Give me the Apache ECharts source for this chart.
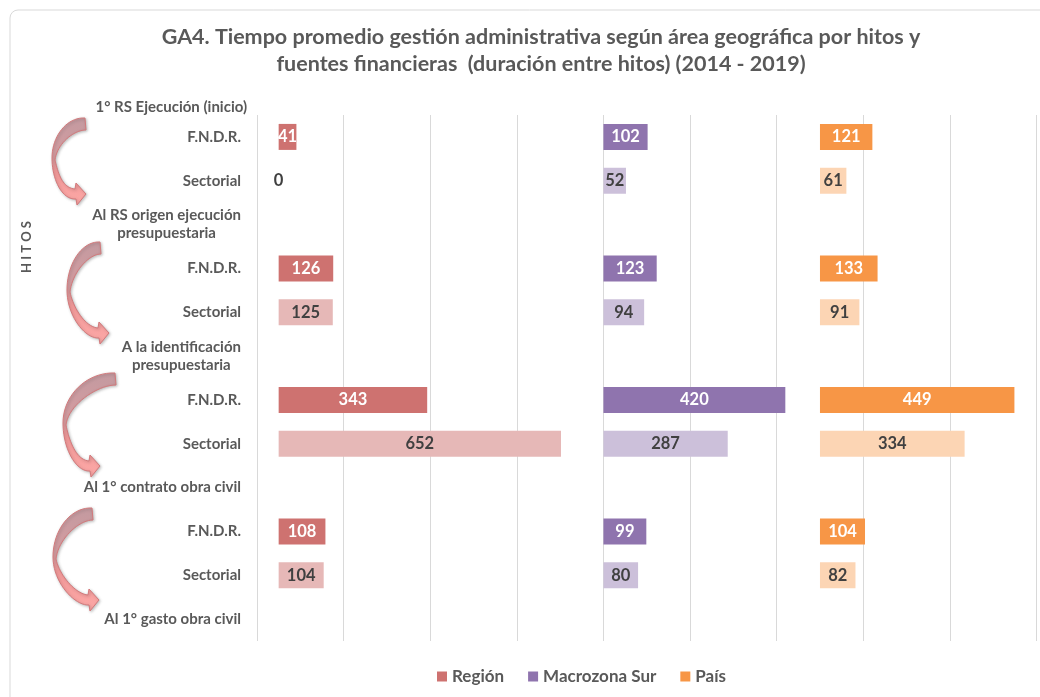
<!DOCTYPE html>
<html>
<head>
<meta charset="utf-8">
<script src="https://cdn.jsdelivr.net/npm/echarts@6/dist/echarts.min.js"></script>
<style>
  html, body { margin: 0; padding: 0; background: #fff; }
  #main { width: 1040px; height: 697px; }
</style>
</head>
<body>
<div id="main"></div>
<script>
// filas del eje (hitos y fuentes)
var categorias = ['F.N.D.R.', 'Sectorial', 'Al RS origen ejecución\npresupuestaria',
  'F.N.D.R.', 'Sectorial', 'A la identificación\npresupuestaria',
  'F.N.D.R.', 'Sectorial', 'Al 1° contrato obra civil',
  'F.N.D.R.', 'Sectorial', 'Al 1° gasto obra civil'];
var hitoInicial = '1° RS Ejecución (inicio)';

// días promedio
var region = [41, 0, null, 126, 125, null, 343, 652, null, 108, 104, null];
var macrozona = [102, 52, null, 123, 94, null, 420, 287, null, 99, 80, null];
var pais = [121, 61, null, 133, 91, null, 449, 334, null, 104, 82, null];

// inicio de cada panel sobre el eje comun
var inicioPaneles = [50, 800, 1300];

var font = 'Lato, "Open Sans", sans-serif';
var gris = '#595959';

var colores = {
  'Región': ['#ce7270', '#e6b8b7'],
  'Macrozona Sur': ['#8f74ae', '#ccc0da'],
  'País': ['#f79646', '#fcd5b4']
};

function datos(nombre, valores) {
  return valores.map(function (v, i) {
    if (v == null) return null;
    var sect = categorias[i] === 'Sectorial';
    return {
      value: v,
      itemStyle: { color: colores[nombre][sect ? 1 : 0] },
      label: { color: sect ? '#404040' : '#fff' }
    };
  });
}

function espacio(base, anteriores) {
  return region.map(function (v, i) {
    if (v == null) return null;
    return anteriores ? base - anteriores[i] : base;
  });
}

function serieVisible(nombre, valores) {
  return {
    name: nombre, type: 'bar', stack: 'total', barWidth: 26,
    itemStyle: { color: colores[nombre][0] },
    label: {
      show: true, position: 'inside', fontFamily: font,
      fontWeight: 'bold', fontSize: 16.5
    },
    data: datos(nombre, valores)
  };
}

function serieEspacio(valores) {
  return {
    type: 'bar', stack: 'total', barWidth: 26, silent: true,
    itemStyle: { color: 'transparent' }, label: { show: false },
    data: valores
  };
}

// flechas curvas decorativas
var flechas = [
  [85, 118, 52, 158, 86, 194],
  [100, 242, 67, 290, 109, 333],
  [115, 373, 63, 423, 100, 466],
  [92, 508, 53, 557, 99, 600]
];

function bezier(p0, p1, p2, p3, n) {
  var pts = [];
  for (var k = 1; k <= n; k++) {
    var t = k / n, u = 1 - t;
    pts.push([
      u * u * u * p0[0] + 3 * u * u * t * p1[0] + 3 * u * t * t * p2[0] + t * t * t * p3[0],
      u * u * u * p0[1] + 3 * u * u * t * p1[1] + 3 * u * t * t * p2[1] + t * t * t * p3[1]
    ]);
  }
  return pts;
}

function flecha(a) {
  var tx = a[0], ty = a[1], lx = a[2], ly = a[3], px = a[4], py = a[5];
  var h1 = ly - ty, h2 = py - ly;
  var pts = [[tx, ty]];
  pts = pts.concat(bezier([tx, ty], [tx - (tx - lx) * 0.55, ty - 1], [lx, ly - h1 * 0.55], [lx, ly], 20));
  pts = pts.concat(bezier([lx, ly], [lx, ly + h2 * 0.6], [px - 24, py + 6], [px - 10, py + 5], 20));
  pts.push([px - 9, py + 11], [px, py], [px - 10, py - 11], [px - 11, py - 5]);
  pts = pts.concat(bezier([px - 11, py - 5], [px - 24, py - 6], [lx + 6, ly + h2 * 0.4], [lx + 3, ly + 2], 20));
  pts = pts.concat(bezier([lx + 3, ly + 2], [lx + 5, ly - h1 * 0.35], [tx - (tx - lx) * 0.35, ty + 12], [tx + 1, ty + 12], 20));
  return {
    type: 'polygon', silent: true,
    shape: { points: pts },
    style: {
      fill: {
        type: 'linear', x: 0, y: 0, x2: 0, y2: 1,
        colorStops: [
          { offset: 0, color: '#c39aa0' },
          { offset: 0.45, color: '#d59ca0' },
          { offset: 0.62, color: '#f39a9a' },
          { offset: 1, color: '#fca8a6' }
        ]
      },
      stroke: '#d3797b', lineWidth: 1,
      shadowBlur: 3, shadowColor: 'rgba(0,0,0,0.25)', shadowOffsetX: 1, shadowOffsetY: 1
    }
  };
}

var chart = echarts.init(document.getElementById('main'));

chart.setOption({
  backgroundColor: '#fff',
  animation: false,
  title: {
    text: 'GA4. Tiempo promedio gestión administrativa según área geográfica por hitos y\nfuentes financieras  (duración entre hitos) (2014 - 2019)',
    left: 541, textAlign: 'center', top: 24, padding: 0,
    textStyle: { fontFamily: font, fontWeight: 'bold', fontSize: 21.5, color: gris, lineHeight: 27 }
  },
  legend: {
    data: ['Región', 'Macrozona Sur', 'País'],
    left: 437, top: 668, padding: 0, icon: 'rect', itemWidth: 10, itemHeight: 10, itemGap: 24,
    selectedMode: false,
    textStyle: { fontFamily: font, fontWeight: 'bold', fontSize: 17, color: gris }
  },
  grid: { left: 257, right: 3.5, top: 115, bottom: 56 },
  xAxis: {
    type: 'value', min: 0, max: 1800, interval: 200,
    axisLabel: { show: false }, axisTick: { show: false }, axisLine: { show: false },
    splitLine: { lineStyle: { color: '#d9d9d9', width: 1 } }
  },
  yAxis: {
    type: 'category', inverse: true, data: categorias,
    axisTick: { show: false }, axisLine: { show: false },
    axisLabel: {
      margin: 16, align: 'right',
      formatter: function (v) {
        return v.split('\n').map(function (s) { return '{a|' + s + '}'; }).join('\n');
      },
      rich: {
        a: { align: 'center', fontFamily: font, fontWeight: 'bold', fontSize: 15, color: gris, lineHeight: 18 }
      }
    }
  },
  graphic: [
    {
      type: 'rect', silent: true,
      shape: { x: 10, y: 10, width: 1100, height: 800, r: 8 },
      style: { fill: 'none', stroke: '#d9d9d9', lineWidth: 1 }
    },
    {
      type: 'text', silent: true, x: 247, y: 107,
      style: { text: hitoInicial, fontFamily: font, fontWeight: 'bold', fontSize: 15, fill: gris, textAlign: 'right', textVerticalAlign: 'middle' }
    },
    {
      type: 'text', silent: true, x: 27, y: 247, rotation: Math.PI / 2,
      style: { text: 'H I T O S', fontFamily: font, fontWeight: 'bold', fontSize: 13, fill: gris, textAlign: 'center', textVerticalAlign: 'middle' }
    }
  ].concat(flechas.map(flecha)),
  series: [
    serieEspacio(espacio(inicioPaneles[0])),
    serieVisible('Región', region),
    serieEspacio(espacio(inicioPaneles[1] - inicioPaneles[0], region)),
    serieVisible('Macrozona Sur', macrozona),
    serieEspacio(espacio(inicioPaneles[2] - inicioPaneles[1], macrozona)),
    serieVisible('País', pais)
  ]
});
</script>
</body>
</html>
